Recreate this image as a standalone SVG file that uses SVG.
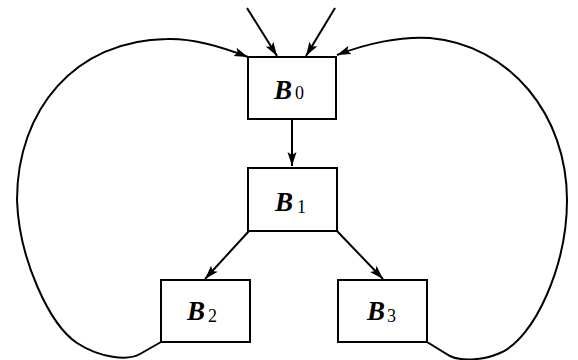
<svg xmlns="http://www.w3.org/2000/svg" width="578" height="360" viewBox="0 0 578 360">
<style>
.box{fill:#fff;stroke:#000;stroke-width:2}
.edge{fill:none;stroke:#000;stroke-width:2}
.lbl{font-family:"Liberation Serif","Times New Roman",serif;fill:#000}
.b{font-style:italic;font-weight:bold;font-size:27px}
.s{font-size:18px}
</style>
<defs>
<marker id="arr" markerUnits="userSpaceOnUse" markerWidth="15" markerHeight="10" refX="14" refY="5" orient="auto">
<path d="M0,0.5 L14,5 L0,9.5 L3,5 z" fill="#000"/>
</marker>
</defs>
<rect width="578" height="360" fill="#fff"/>
<g id="connectors">
<line class="edge" x1="247" y1="8" x2="277" y2="56" marker-end="url(#arr)"/>
<line class="edge" x1="335" y1="8" x2="306" y2="56" marker-end="url(#arr)"/>
<line class="edge" x1="292" y1="119" x2="292" y2="166" marker-end="url(#arr)"/>
<line class="edge" x1="249" y1="231" x2="205" y2="279" marker-end="url(#arr)"/>
<line class="edge" x1="337" y1="231" x2="383" y2="279" marker-end="url(#arr)"/>
<path class="edge" d="M161,342 L140,354 C128,361 100,358 77,343 C50,325 19,260 17,200 C17,110 75,40 167,39 C195,38 225,48 248,57" marker-end="url(#arr)"/>
<path class="edge" d="M427,342 L450,356 C460,361 482,361 500,353 C535,338 567,265 567,200 C567,115 510,45 430,38 C400,36 365,44 337,55" marker-end="url(#arr)"/>
</g>
<g id="B0">
<rect class="box" x="248" y="57" width="88" height="62"/>
<text class="lbl" x="274" y="99"><tspan class="b">B</tspan><tspan class="s" dx="3">0</tspan></text>
</g>
<g id="B1">
<rect class="box" x="248" y="168" width="89" height="63"/>
<text class="lbl" x="275" y="211"><tspan class="b">B</tspan><tspan class="s" dx="4" dy="2">1</tspan></text>
</g>
<g id="B2">
<rect class="box" x="161" y="280" width="89" height="62"/>
<text class="lbl" x="187" y="320"><tspan class="b">B</tspan><tspan class="s" dx="3" dy="2">2</tspan></text>
</g>
<g id="B3">
<rect class="box" x="338" y="280" width="89" height="62"/>
<text class="lbl" x="367" y="320"><tspan class="b">B</tspan><tspan class="s" dx="2" dy="2">3</tspan></text>
</g>
</svg>
